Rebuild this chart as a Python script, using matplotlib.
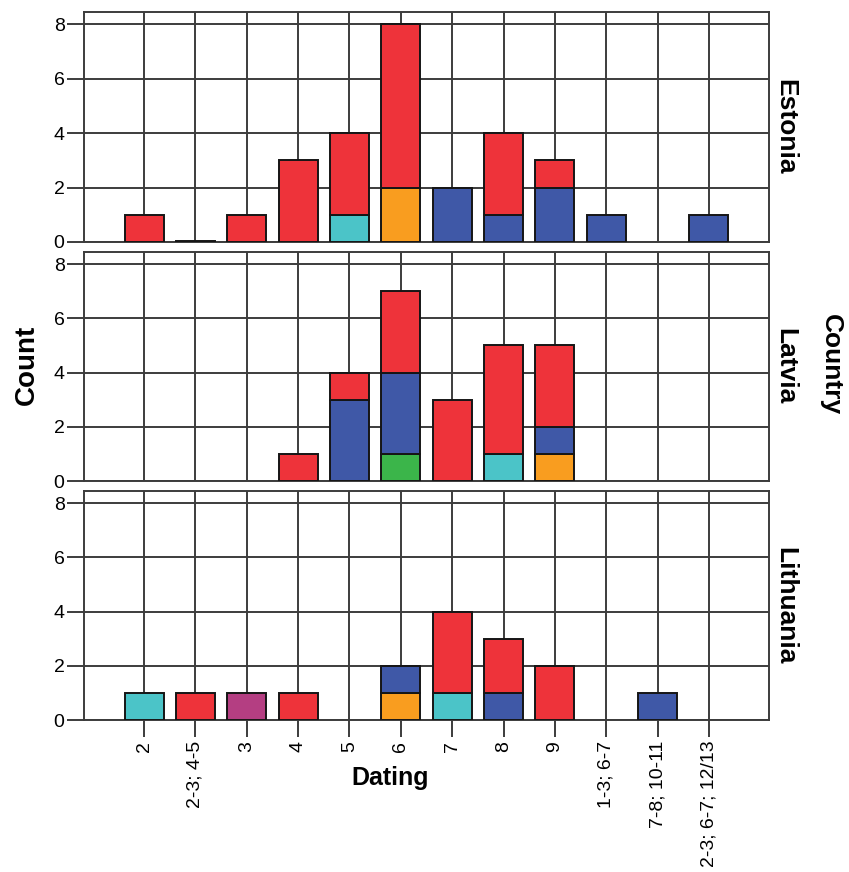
import matplotlib
matplotlib.use("Agg")
import matplotlib.pyplot as plt
import numpy as np

plt.rcParams['font.family'] = ['Liberation Sans', 'DejaVu Sans']

categories = ["2", "2-3; 4-5", "3", "4", "5", "6", "7", "8", "9",
              "1-3; 6-7", "7-8; 10-11", "2-3; 6-7; 12/13"]
countries = ["Estonia", "Latvia", "Lithuania"]
series_names = ["cyan", "green", "orange", "purple", "blue", "red"]
series_colors = ["#4BC4C8", "#3BB54A", "#F99D1F", "#B43E82", "#3F58A7", "#EE333A"]

# counts per category (bottom-to-top stacking order as in series_names)
estonia_cyan   = [0, 0, 0, 0, 1, 0, 0, 0, 0, 0, 0, 0]
estonia_green  = [0, 0, 0, 0, 0, 0, 0, 0, 0, 0, 0, 0]
estonia_orange = [0, 0, 0, 0, 0, 2, 0, 0, 0, 0, 0, 0]
estonia_purple = [0, 0, 0, 0, 0, 0, 0, 0, 0, 0, 0, 0]
estonia_blue   = [0, 0, 0, 0, 0, 0, 2, 1, 2, 1, 0, 1]
estonia_red    = [1, 0, 1, 3, 3, 6, 0, 3, 1, 0, 0, 0]
estonia_empty  = ["2-3; 4-5"]   # category present with zero count

latvia_cyan   = [0, 0, 0, 0, 0, 0, 0, 1, 0, 0, 0, 0]
latvia_green  = [0, 0, 0, 0, 0, 1, 0, 0, 0, 0, 0, 0]
latvia_orange = [0, 0, 0, 0, 0, 0, 0, 0, 1, 0, 0, 0]
latvia_purple = [0, 0, 0, 0, 0, 0, 0, 0, 0, 0, 0, 0]
latvia_blue   = [0, 0, 0, 0, 3, 3, 0, 0, 1, 0, 0, 0]
latvia_red    = [0, 0, 0, 1, 1, 3, 3, 4, 3, 0, 0, 0]
latvia_empty  = []

lithuania_cyan   = [1, 0, 0, 0, 0, 0, 1, 0, 0, 0, 0, 0]
lithuania_green  = [0, 0, 0, 0, 0, 0, 0, 0, 0, 0, 0, 0]
lithuania_orange = [0, 0, 0, 0, 0, 1, 0, 0, 0, 0, 0, 0]
lithuania_purple = [0, 0, 1, 0, 0, 0, 0, 0, 0, 0, 0, 0]
lithuania_blue   = [0, 0, 0, 0, 0, 1, 0, 1, 0, 0, 1, 0]
lithuania_red    = [0, 1, 0, 1, 0, 0, 3, 2, 2, 0, 0, 0]
lithuania_empty  = []

data = {
    "Estonia": [estonia_cyan, estonia_green, estonia_orange, estonia_purple, estonia_blue, estonia_red],
    "Latvia": [latvia_cyan, latvia_green, latvia_orange, latvia_purple, latvia_blue, latvia_red],
    "Lithuania": [lithuania_cyan, lithuania_green, lithuania_orange, lithuania_purple, lithuania_blue, lithuania_red],
}
empties = {"Estonia": estonia_empty, "Latvia": latvia_empty, "Lithuania": lithuania_empty}
yticks = [0, 2, 4, 6, 8]

W, H = 849, 872
fig = plt.figure(figsize=(W / 100, H / 100), dpi=100)
fig.patch.set_facecolor("white")

left = 84 / W
width = (769 - 84) / W
panel_px = [(12, 242), (252, 481), (491, 720)]
gridc = "#3c3c3c"
x = np.arange(len(categories))
bw = 0.76

axes = []
for i, (country, (top, bot)) in enumerate(zip(countries, panel_px)):
    ax = fig.add_axes([left, (H - bot) / H, width, (bot - top) / H])
    axes.append(ax)
    bottom = np.zeros(len(categories))
    for vals, col in zip(data[country], series_colors):
        v = np.array(vals, dtype=float)
        m = v > 0
        ax.bar(x[m], v[m], bottom=bottom[m], width=bw, color=col,
               edgecolor="#151515", linewidth=1.4, zorder=3)
        bottom += v
    for cat in empties[country]:
        ax.bar([categories.index(cat)], [0.02], width=bw, color="#151515",
               edgecolor="#151515", linewidth=1.4, zorder=3)
    ax.set_xlim(-1.17, len(categories) - 1 + 1.17)
    ax.set_ylim(0, 8.45)
    ax.set_yticks(yticks)
    ax.set_yticklabels([str(t) for t in yticks], fontsize=14)
    ax.set_xticks(x)
    ax.grid(True, color=gridc, linewidth=1.4, zorder=0)
    ax.set_axisbelow(True)
    for s in ax.spines.values():
        s.set_color(gridc)
        s.set_linewidth(1.4)
    ax.tick_params(axis="y", direction="out", length=12, width=1.4, color=gridc, pad=2)
    if i < 2:
        ax.tick_params(axis="x", length=0, labelbottom=False)
    else:
        ax.set_xticklabels(categories, rotation=90, fontsize=14)
        ax.tick_params(axis="x", direction="out", length=12, width=1.4, color=gridc, pad=3)
    ax.text(1.0 + 16 / (769 - 84), 0.5, country, transform=ax.transAxes,
            rotation=-90, ha="center", va="center", fontsize=19, fontweight="bold")

fig.text(27 / W, 1 - 365 / H, "Count", rotation=90, ha="center", va="center",
         fontsize=20, fontweight="bold")
fig.text(831 / W, 1 - 365 / H, "Country", rotation=-90, ha="center", va="center",
         fontsize=19, fontweight="bold")
fig.text(390 / W, 1 - 778 / H, "Dating", ha="center", va="center",
         fontsize=18, fontweight="bold")

fig.savefig("out.png", dpi=100, facecolor="white")
